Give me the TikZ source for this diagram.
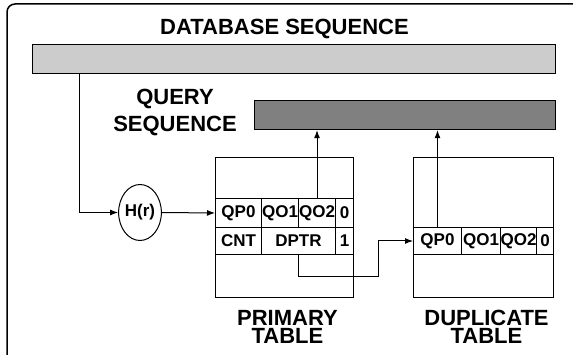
\documentclass[tikz,border=0pt]{standalone}
\usepackage{fontspec}
\setmainfont{Liberation Sans}
\usepackage{xcolor}
\usetikzlibrary{shapes,arrows.meta,positioning,calc}
\definecolor{dbgray}{RGB}{204,204,204}
\definecolor{querygray}{RGB}{128,128,128}

\begin{document}
\begin{tikzpicture}[x=1pt,y=-1pt,>={Latex[length=8pt,width=6pt]},line width=1pt,
  cell/.style={draw,rectangle,inner sep=0pt,anchor=north west,font=\bfseries\fontsize{17}{17}\selectfont},
  heading/.style={inner sep=0pt,align=center,font=\bfseries\fontsize{22}{18}\selectfont},
  bar/.style={draw,rectangle,inner sep=0pt,anchor=north west,line width=1.2pt}]
\useasboundingbox (0,0) rectangle (573,355);
\clip (0,0) rectangle (573,355);
\draw[line width=1.5pt,rounded corners=8pt] (7,4) rectangle (600,380);
% sequences
\node[heading,anchor=base] (dbtitle) at (284.5,35) {DATABASE SEQUENCE};
\node[bar,fill=dbgray,minimum width=523pt,minimum height=29pt] (dbseq) at (32,44) {};
\node[heading,font=\bfseries\fontsize{22}{27}\selectfont] (qtitle) at (175,112) {QUERY\\SEQUENCE};
\node[bar,fill=querygray,minimum width=301pt,minimum height=29pt] (query) at (254,100) {};
% hash function
\node[draw,ellipse,minimum width=37pt,minimum height=56pt,inner sep=0pt,font=\bfseries\fontsize{17}{17}\selectfont] (hash) at (140,212.5) {H(r)};
% primary table
\node[draw,rectangle,inner sep=0pt,anchor=north west,minimum width=138pt,minimum height=140pt] (ptab) at (215,157) {};
\node[cell,minimum width=46pt,minimum height=29pt] (qp0) at (215,198) {QP0};
\node[cell,minimum width=37pt,minimum height=29pt] (qo1) at (261,198) {QO1};
\node[cell,minimum width=37pt,minimum height=29pt] (qo2) at (298,198) {QO2};
\node[cell,minimum width=18pt,minimum height=29pt] (flag0) at (335,198) {0};
\node[cell,minimum width=46pt,minimum height=27pt] (cnt) at (215,227) {CNT};
\node[cell,minimum width=74pt,minimum height=27pt] (dptr) at (261,227) {DPTR};
\node[cell,minimum width=18pt,minimum height=27pt] (flag1) at (335,227) {1};
% duplicate table
\node[draw,rectangle,inner sep=0pt,anchor=north west,minimum width=140pt,minimum height=140pt] (dtab) at (413,157) {};
\node[cell,minimum width=48pt,minimum height=27pt] (dqp0) at (413,227) {QP0};
\node[cell,minimum width=39pt,minimum height=27pt] (dqo1) at (461,227) {QO1};
\node[cell,minimum width=36pt,minimum height=27pt] (dqo2) at (500,227) {QO2};
\node[cell,minimum width=17pt,minimum height=27pt] (dflag0) at (536,227) {0};
\node[heading,below=12pt of ptab,xshift=3pt] (plabel) {PRIMARY\\TABLE};
\node[heading,below=12pt of dtab,xshift=3pt] (dlabel) {DUPLICATE\\TABLE};
% links
\draw[->] ($(dbseq.south west)+(47,0)$) |- (hash.west);
\draw[->] (hash.east) -- (qp0.west);
\draw[->] (qo2.north) -- (qo2.north |- query.south);
\draw[->] (dqp0.north) -- (dqp0.north |- query.south);
\draw[->] (dptr.south) -- ++(0,22) -| ($(dqp0.west)+(-35,0)$) -- (dqp0.west);
\end{tikzpicture}
\end{document}
